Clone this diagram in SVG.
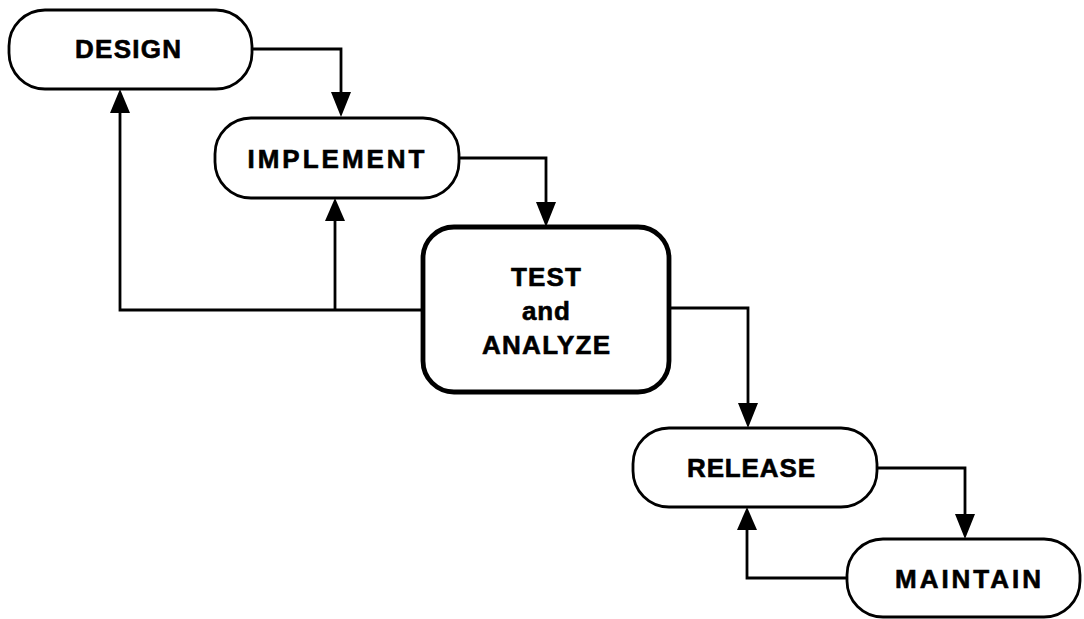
<svg xmlns="http://www.w3.org/2000/svg" width="1084" height="619" viewBox="0 0 1084 619">
<style>
.box{fill:#fff;stroke:#000;stroke-width:2.8}
.thick{stroke-width:4.8}
.lbl{font-family:"Liberation Sans",Arial,sans-serif;font-weight:bold;font-size:26px;fill:#000;stroke:#000;stroke-width:0.6;text-anchor:middle}
.ln{fill:none;stroke:#000;stroke-width:2.8}
.ah{fill:#000;stroke:none}
</style>
<rect width="1084" height="619" fill="#fff"/>
<g id="connectors">
<path class="ln" d="M252,49 H341 V95"/>
<polygon class="ah" points="331,92 351,92 341,117"/>
<path class="ln" d="M459,158 H546 V205"/>
<polygon class="ah" points="536,202 556,202 546,227"/>
<path class="ln" d="M669,308 H748 V406"/>
<polygon class="ah" points="738,403 758,403 748,428"/>
<path class="ln" d="M877,468 H965 V516"/>
<polygon class="ah" points="955,514 975,514 965,539"/>
<path class="ln" d="M423,310 H120 V110"/>
<polygon class="ah" points="110,113 130,113 120,89"/>
<path class="ln" d="M335,310 V218"/>
<polygon class="ah" points="325,221 345,221 335,198"/>
<path class="ln" d="M847,578 H747 V526"/>
<polygon class="ah" points="737,530 757,530 747,507"/>
</g>
<g id="design">
<rect class="box" x="9" y="10" width="243" height="79" rx="36"/>
<text class="lbl" x="128" y="58" textLength="106" lengthAdjust="spacing">DESIGN</text>
</g>
<g id="implement">
<rect class="box" x="215" y="118" width="244" height="80" rx="36"/>
<text class="lbl" x="336" y="168" textLength="177" lengthAdjust="spacing">IMPLEMENT</text>
</g>
<g id="test">
<rect class="box thick" x="423" y="227" width="246" height="165" rx="31"/>
<text class="lbl" x="546" y="286" textLength="70" lengthAdjust="spacing">TEST</text>
<text class="lbl" x="546" y="320" textLength="48" lengthAdjust="spacing">and</text>
<text class="lbl" x="546" y="354" textLength="128" lengthAdjust="spacing">ANALYZE</text>
</g>
<g id="release">
<rect class="box" x="633" y="428" width="244" height="79" rx="36"/>
<text class="lbl" x="751" y="477" textLength="128" lengthAdjust="spacing">RELEASE</text>
</g>
<g id="maintain">
<rect class="box" x="847" y="539" width="233" height="78" rx="36"/>
<text class="lbl" x="968" y="588" textLength="146" lengthAdjust="spacing">MAINTAIN</text>
</g>
</svg>
